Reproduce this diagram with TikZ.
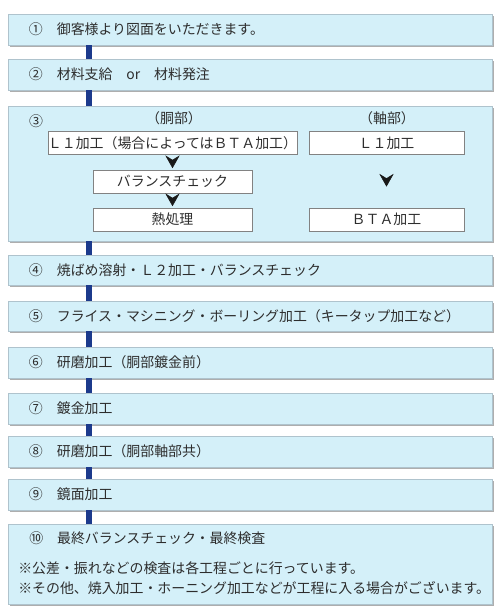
\documentclass[tikz,border=0pt]{standalone}
\usepackage{fontspec}
\setmainfont{Noto Sans CJK JP}
\definecolor{stepfill}{RGB}{212,240,249}
\definecolor{stepline}{RGB}{175,195,205}
\definecolor{spinenavy}{RGB}{28,58,140}
\definecolor{partline}{RGB}{130,130,130}
\definecolor{inktext}{RGB}{45,45,45}
\usetikzlibrary{arrows.meta,positioning,shadows}
\newcommand{\stepfont}{\fontsize{9.9pt}{12pt}\selectfont}
\tikzset{
  stepbox/.style={draw=stepline, fill=stepfill, minimum height=0.775cm, text width=11.05cm, inner xsep=0.525cm, inner ysep=0pt, align=left, font=\stepfont, text=inktext, drop shadow={shadow xshift=0.05cm, shadow yshift=-0.06cm, fill=black!45, opacity=0.7}},
  partbox/.style={draw=partline, fill=white, minimum height=0.57cm, inner sep=0pt, font=\stepfont, text=inktext},
  plaintext/.style={inner sep=0pt, font=\stepfont, text=inktext},
  spine/.style={line width=0.15cm, spinenavy},
  chevron/.style={-{Stealth[length=0.32cm, width=0.36cm, inset=0.11cm]}, line width=0.4pt, black!90},
}

\begin{document}
\begin{tikzpicture}
  \useasboundingbox (0,0) rectangle (12.5,15.325);
  \coordinate (axis) at (2.225,0);

  %% Steps 1 and 2
  \node[stepbox] (s1) at (6.25,14.5875) {①　御客様より図面をいただきます。};
  \node[stepbox] (s2) at (6.25,13.4625) {②　材料支給　or　材料発注};

  %% Step 3: body / shaft
  \node[stepbox, minimum height=3.375cm] (s3) at (6.25,10.9875) {};
  \node[plaintext] (n3) at (0.9,12.3) {③};
  \node[plaintext] (body) at (4.35,12.375) {（胴部）};
  \node[plaintext] (shaft) at (9.675,12.375) {（軸部）};
  \node[partbox, minimum width=6.175cm] (bodyL1) at (4.3125,11.75) {Ｌ１加工（場合によってはＢＴＡ加工）};
  \node[partbox, minimum width=3.975cm] (balance) at (4.3125,10.7875) {バランスチェック};
  \node[partbox, minimum width=3.975cm] (heat) at (4.3125,9.8375) {熱処理};
  \node[partbox, minimum width=3.875cm] (shaftL1) at (9.6625,11.75) {Ｌ１加工};
  \node[partbox, minimum width=3.875cm] (shaftBTA) at (9.6625,9.8375) {ＢＴＡ加工};
  \draw[chevron, shorten <=0.15cm, shorten >=0.04cm] (bodyL1.south) -- (balance.north);
  \draw[chevron, shorten <=0.15cm, shorten >=0.04cm] (balance.south) -- (heat.north);
  \draw[chevron, shorten <=0.6cm, shorten >=0.53cm] (shaftL1.south) -- (shaftBTA.north);

  %% Steps 4 to 9
  \node[stepbox, minimum height=0.75cm] (s4) at (6.25,8.575) {④　焼ばめ溶射・Ｌ２加工・バランスチェック};
  \node[stepbox, minimum height=0.75cm] (s5) at (6.25,7.425) {⑤　フライス・マシニング・ボーリング加工（キータップ加工など）};
  \node[stepbox] (s6) at (6.25,6.2625) {⑥　研磨加工（胴部鍍金前）};
  \node[stepbox] (s7) at (6.25,5.1125) {⑦　鍍金加工};
  \node[stepbox] (s8) at (6.25,4.0375) {⑧　研磨加工（胴部軸部共）};
  \node[stepbox] (s9) at (6.25,2.9625) {⑨　鏡面加工};

  %% Step 10 with notes
  \node[stepbox, minimum height=2.0cm] (s10) at (6.25,1.225) {};
  \node[plaintext, anchor=west] (n10) at (0.725,1.875) {⑩　最終バランスチェック・最終検査};
  \node[plaintext, anchor=west] (note1) at (0.45,1.125) {※公差・振れなどの検査は各工程ごとに行っています。};
  \node[plaintext, anchor=west] (note2) at (0.45,0.625) {※その他、焼入加工・ホーニング加工などが工程に入る場合がございます。};

  %% Navy connectors between steps
  \draw[spine] (s1.south -| axis) -- (s2.north -| axis);
  \draw[spine] (s2.south -| axis) -- (s3.north -| axis);
  \draw[spine] (s3.south -| axis) -- (s4.north -| axis);
  \draw[spine] (s4.south -| axis) -- (s5.north -| axis);
  \draw[spine] (s5.south -| axis) -- (s6.north -| axis);
  \draw[spine] (s6.south -| axis) -- (s7.north -| axis);
  \draw[spine] (s7.south -| axis) -- (s8.north -| axis);
  \draw[spine] (s8.south -| axis) -- (s9.north -| axis);
  \draw[spine] (s9.south -| axis) -- (s10.north -| axis);
\end{tikzpicture}
\end{document}
